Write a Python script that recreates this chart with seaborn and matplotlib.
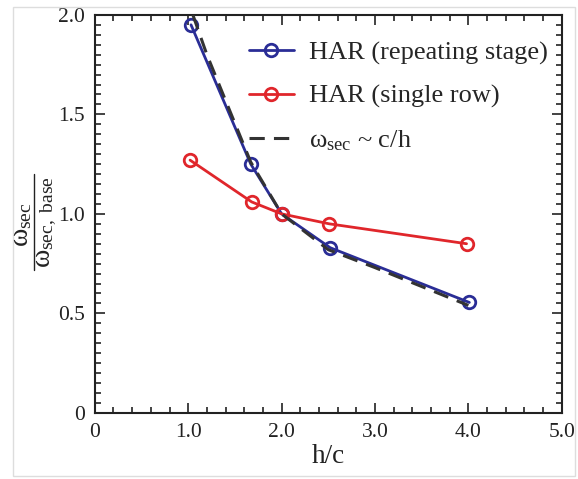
import numpy as np
import pandas as pd
import matplotlib
matplotlib.use("Agg")
import matplotlib.pyplot as plt
from matplotlib.ticker import MultipleLocator, FixedLocator, FixedFormatter
from matplotlib.patches import Rectangle
from matplotlib.lines import Line2D
import seaborn as sns

# Data
hc_repeat = [1.03, 1.67, 2.0, 2.52, 4.01]
w_repeat = [1.95, 1.25, 1.0, 0.83, 0.555]

hc_single = [1.02, 1.68, 2.0, 2.51, 3.98]
w_single = [1.27, 1.06, 1.0, 0.95, 0.85]

hc_trend = [1.05, 1.2, 1.4, 1.67, 2.0, 2.5, 3.0, 3.5, 4.0]
w_trend = [2.0, 1.80, 1.57, 1.26, 1.0, 0.82, 0.73, 0.635, 0.54]

x_ticks = [0, 1, 2, 3, 4, 5]
x_labels = ["0", "1.0", "2.0", "3.0", "4.0", "5.0"]
y_ticks = [0, 0.5, 1.0, 1.5, 2.0]
y_labels = ["0", "0.5", "1.0", "1.5", "2.0"]

blue = "#2a2d96"
red = "#e0262b"
ink = "#222222"

sns.set_style("ticks")
plt.rcParams["font.family"] = ["Liberation Serif", "DejaVu Serif"]
plt.rcParams["mathtext.fontset"] = "custom"
plt.rcParams["mathtext.rm"] = "Liberation Serif"
plt.rcParams["mathtext.it"] = "Liberation Serif"
plt.rcParams["mathtext.bf"] = "Liberation Serif:bold"

fig = plt.figure(figsize=(5.78, 4.79), dpi=100)
ax = fig.add_axes([0.164, 0.138, 0.808, 0.831])

# faint frame around the whole picture
fig.patches.append(Rectangle((0.022, 0.006), 0.973, 0.979, transform=fig.transFigure,
                             fill=False, edgecolor="#dddddd", linewidth=1.0))

df_r = pd.DataFrame({"x": hc_repeat, "y": w_repeat})
df_s = pd.DataFrame({"x": hc_single, "y": w_single})
df_t = pd.DataFrame({"x": hc_trend, "y": w_trend})

mk = dict(marker="o", markersize=9, markerfacecolor="none", markeredgewidth=2)
sns.lineplot(data=df_r, x="x", y="y", ax=ax, color=blue, lw=2, sort=False,
             markeredgecolor=blue, label="HAR (repeating stage)", zorder=3, **mk)
sns.lineplot(data=df_s, x="x", y="y", ax=ax, color=red, lw=2, sort=False,
             markeredgecolor=red, label="HAR (single row)", zorder=3, **mk)
sns.lineplot(data=df_t, x="x", y="y", ax=ax, color="#333333", lw=2.2, sort=False,
             linestyle=(0, (5, 3)), label=r"$\omega_{\rm sec}$ ~ c/h", zorder=4)

ax.set_xlim(0, 5)
ax.set_ylim(0, 2)
ax.xaxis.set_major_locator(FixedLocator(x_ticks))
ax.xaxis.set_major_formatter(FixedFormatter(x_labels))
ax.yaxis.set_major_locator(FixedLocator(y_ticks))
ax.yaxis.set_major_formatter(FixedFormatter(y_labels))
ax.xaxis.set_minor_locator(MultipleLocator(0.2))
ax.yaxis.set_minor_locator(MultipleLocator(0.05))
ax.tick_params(which="both", direction="in", top=True, right=True, width=1.2, colors=ink)
ax.tick_params(which="major", length=7, labelsize=15.5, pad=7, labelcolor=ink)
ax.tick_params(which="minor", length=4)
for s in ax.spines.values():
    s.set_linewidth(1.5)
    s.set_color(ink)

ax.set_xlabel("h/c", fontsize=19.5, color=ink, labelpad=2)
ax.set_ylabel("")

# y label as a stacked fraction, rotated
fig.text(0.037, 0.530, r"$\omega_{\rm sec}$", rotation=90, ha="center", va="center",
         fontsize=20, color=ink)
fig.text(0.081, 0.537, r"$\omega_{\rm sec,\ base}$", rotation=90, ha="center", va="center",
         fontsize=20, color=ink)
fig.add_artist(Line2D([0.059, 0.059], [1 - 174 / 479, 1 - 270 / 479],
                      transform=fig.transFigure, color=ink, lw=1.0))

leg = ax.legend(loc="upper right", bbox_to_anchor=(1.005, 0.975), frameon=False,
                fontsize=19, handlelength=1.7, borderaxespad=0.2, labelspacing=0.75,
                handletextpad=0.6)

fig.savefig("out.png", dpi=100)
